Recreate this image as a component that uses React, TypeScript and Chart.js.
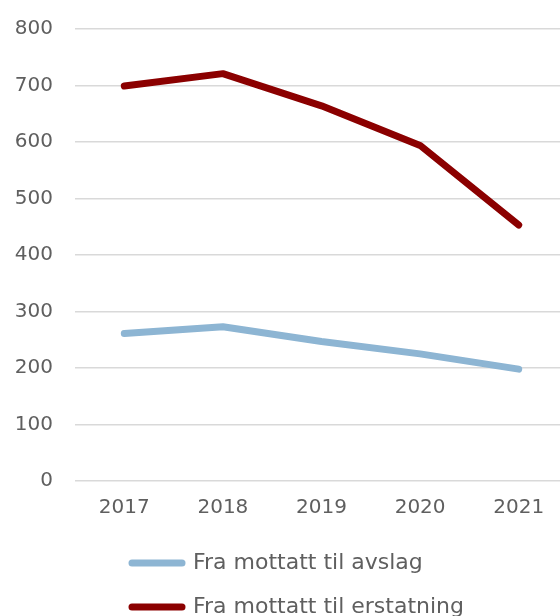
import React, { useEffect, useRef } from "react";
import { Chart, registerables } from "chart.js";

Chart.register(...registerables);

const years = ["2017", "2018", "2019", "2020", "2021"];
const avslag = [261, 273, 247, 225, 198];
const erstatning = [699, 721, 664, 594, 453];
const seriesNames = ["Fra mottatt til avslag", "Fra mottatt til erstatning"];

const FONT = "'DejaVu Sans', sans-serif";
const TEXT = "#5f5f5f";

const legendShift = {
  id: "legendShift",
  afterLayout(chart: any) {
    if (chart.legend) {
      chart.legend.left += 110;
    }
  },
};

export default function App() {
  const ref = useRef<HTMLCanvasElement | null>(null);

  useEffect(() => {
    if (!ref.current) return;
    const chart = new Chart(ref.current, {
      type: "line",
      data: {
        labels: years,
        datasets: [
          {
            label: seriesNames[0],
            data: avslag,
            borderColor: "#8db5d3",
            backgroundColor: "#8db5d3",
            borderWidth: 7,
            borderCapStyle: "round",
            borderJoinStyle: "round",
            pointRadius: 0,
            tension: 0,
          },
          {
            label: seriesNames[1],
            data: erstatning,
            borderColor: "#8b0000",
            backgroundColor: "#8b0000",
            borderWidth: 7,
            borderCapStyle: "round",
            borderJoinStyle: "round",
            pointRadius: 0,
            tension: 0,
          },
        ],
      },
      options: {
        responsive: false,
        animation: false,
        devicePixelRatio: 1,
        layout: { padding: { top: 29, right: 2, left: 0, bottom: 0 } },
        plugins: {
          tooltip: { enabled: false },
          legend: {
            position: "bottom",
            align: "start",
            labels: {
              usePointStyle: true,
              pointStyle: "line",
              pointStyleWidth: 50,
              boxHeight: 22,
              padding: 22,
              color: TEXT,
              font: { family: FONT, size: 22 },
              generateLabels: (c: any) =>
                Chart.defaults.plugins.legend.labels
                  .generateLabels(c)
                  .map((it: any) => ({ ...it, lineCap: "round", lineWidth: 7 })),
            },
          },
        },
        scales: {
          x: {
            offset: true,
            grid: { display: false, drawTicks: false },
            border: { display: false },
            ticks: { color: TEXT, font: { family: FONT, size: 20 }, padding: 15 },
            afterFit: (s: any) => {
              s.height = 49;
              s.paddingTop = 0;
              s.paddingBottom = 0;
            },
          },
          y: {
            min: 0,
            max: 800,
            grid: { color: "#d9d9d9", lineWidth: 1.5, drawTicks: false },
            border: { display: false },
            ticks: {
              stepSize: 100,
              color: TEXT,
              font: { family: FONT, size: 20 },
              padding: 22,
            },
            afterFit: (s: any) => {
              s.width = 75;
              s.paddingTop = 0;
              s.paddingBottom = 0;
            },
          },
        },
      },
      plugins: [legendShift],
    });
    return () => chart.destroy();
  }, []);

  return (
    <div
      style={{
        position: "fixed",
        left: 0,
        top: 0,
        width: 560,
        height: 616,
        overflow: "hidden",
        background: "#fff",
      }}
    >
      <canvas ref={ref} width={570} height={628} style={{ display: "block" }} />
    </div>
  );
}
